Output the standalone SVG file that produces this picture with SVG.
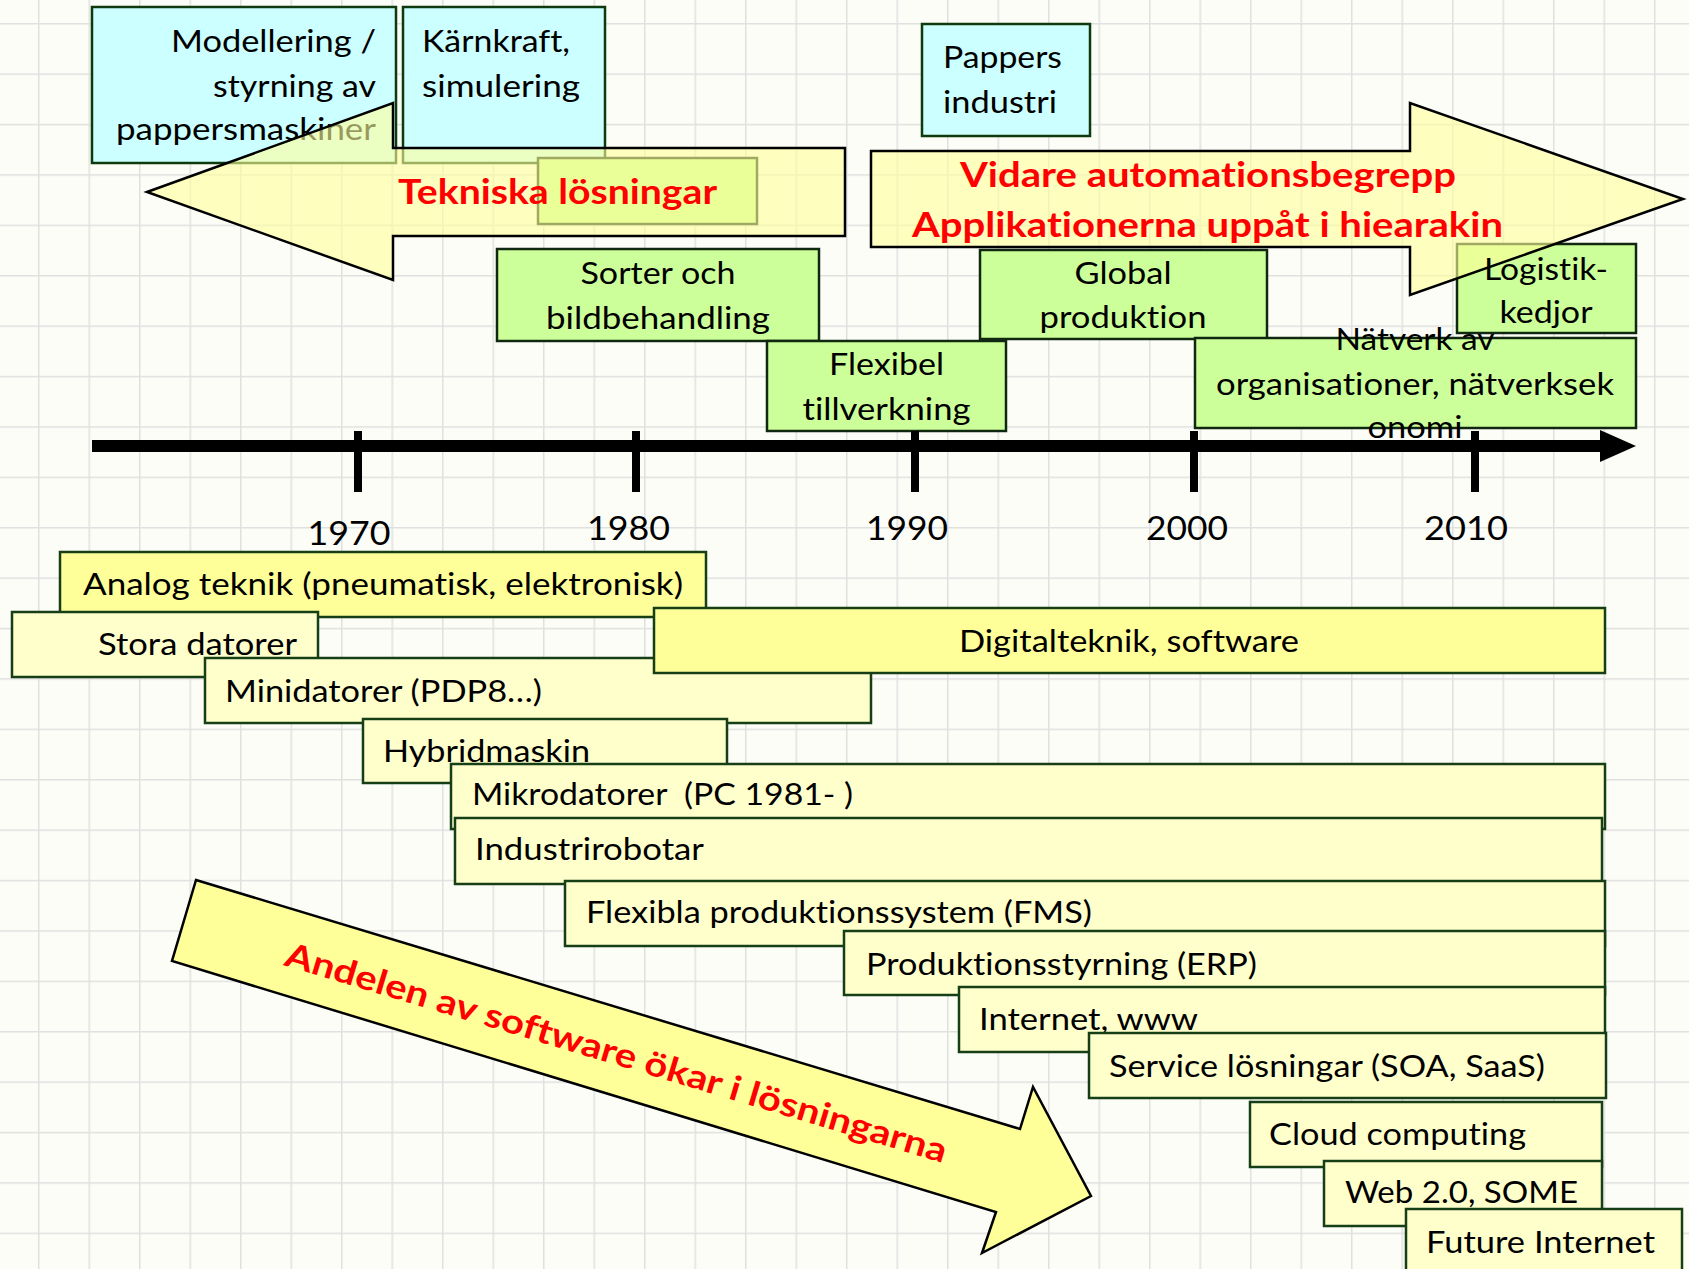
<svg xmlns="http://www.w3.org/2000/svg" width="1689" height="1269" viewBox="0 0 1689 1269">
  <style>
    text { font-variant-ligatures: none; }
    .t { font-family: Lato, "Liberation Sans", sans-serif; font-size: 31px; fill: #000; }
    .yr { font-family: Lato, "Liberation Sans", sans-serif; font-size: 33px; fill: #000; text-anchor: middle; }
    .red { font-family: Lato, "Liberation Sans", sans-serif; font-size: 34px; font-weight: 700; fill: #FF0000; }
    .mid { text-anchor: middle; }
    .end { text-anchor: end; }
    .cyan { fill: #CCFFFF; stroke: #0E3B0E; stroke-width: 2.5; }
    .green { fill: #CCFF99; stroke: #102810; stroke-width: 2.5; }
    .bar { fill: #FFFFCC; stroke: #163F16; stroke-width: 2.5; }
    .hi { fill: #FFFF99; }
    .arrow { fill: #FFFF99; fill-opacity: 0.6; stroke: #000; stroke-width: 2.5; stroke-linejoin: miter; }
    .solid { fill-opacity: 1; }
  </style>
  <defs>
    <pattern id="grid" patternUnits="userSpaceOnUse" x="38" y="23" width="50.5" height="50.4">
      <path d="M0.75 0 V50.4 M0 0.75 H50.5" stroke="#e0e0e0" stroke-width="1.5" fill="none"/>
    </pattern>
  </defs>

  <!-- graph paper background -->
  <rect width="1689" height="1269" fill="#FCFDF7"/>
  <rect width="1689" height="1269" fill="url(#grid)"/>

  <!-- application areas, top row -->
  <g id="modellering">
    <rect class="cyan" x="92" y="7" width="304" height="156"/>
    <text class="t end" x="376" y="52" textLength="205" lengthAdjust="spacingAndGlyphs">Modellering /</text>
    <text class="t end" x="376" y="97" textLength="163" lengthAdjust="spacingAndGlyphs">styrning av</text>
    <text class="t end" x="376" y="140" textLength="260" lengthAdjust="spacingAndGlyphs">pappersmaskiner</text>
  </g>
  <g id="karnkraft">
    <rect class="cyan" x="403" y="7" width="202" height="156"/>
    <text class="t" x="422" y="52" textLength="148" lengthAdjust="spacingAndGlyphs">Kärnkraft,</text>
    <text class="t" x="422" y="97" textLength="158" lengthAdjust="spacingAndGlyphs">simulering</text>
  </g>
  <g id="hidden-box">
    <rect class="green" x="538" y="158" width="219" height="66"/>
  </g>
  <g id="logistik">
    <rect class="green" x="1457" y="244" width="179" height="89"/>
  </g>

  <!-- broad arrows -->
  <g id="arrow-tekniska">
    <polygon class="arrow" points="147,192 393,103 393,148 845,148 845,236 393,236 393,280"/>
    <text class="red" x="398" y="204" textLength="319" lengthAdjust="spacingAndGlyphs">Tekniska lösningar</text>
  </g>
  <g id="arrow-vidare">
    <polygon class="arrow" points="871,151 1410,151 1410,103 1683,199 1410,295 1410,247 871,247"/>
  </g>

  <g id="logistik-text">
    <text class="t mid" x="1546" y="280" textLength="124" lengthAdjust="spacingAndGlyphs">Logistik-</text>
    <text class="t mid" x="1546" y="323" textLength="93" lengthAdjust="spacingAndGlyphs">kedjor</text>
  </g>
  <g id="vidare-text">
    <text class="red" x="960" y="187" textLength="496" lengthAdjust="spacingAndGlyphs">Vidare automationsbegrepp</text>
    <text class="red" x="912" y="237" textLength="591" lengthAdjust="spacingAndGlyphs">Applikationerna uppåt i hiearakin</text>
  </g>

  <g id="pappers">
    <rect class="cyan" x="922" y="24" width="168" height="112"/>
    <text class="t" x="943" y="68" textLength="119" lengthAdjust="spacingAndGlyphs">Pappers</text>
    <text class="t" x="943" y="113" textLength="114" lengthAdjust="spacingAndGlyphs">industri</text>
  </g>
  <g id="sorter">
    <rect class="green" x="497" y="249" width="322" height="92"/>
    <text class="t mid" x="658" y="284" textLength="155" lengthAdjust="spacingAndGlyphs">Sorter och</text>
    <text class="t mid" x="658" y="329" textLength="224" lengthAdjust="spacingAndGlyphs">bildbehandling</text>
  </g>
  <g id="flexibel">
    <rect class="green" x="767" y="341" width="239" height="90"/>
    <text class="t mid" x="886.5" y="375" textLength="115" lengthAdjust="spacingAndGlyphs">Flexibel</text>
    <text class="t mid" x="886.5" y="420" textLength="168" lengthAdjust="spacingAndGlyphs">tillverkning</text>
  </g>
  <g id="global">
    <rect class="green" x="980" y="250" width="287" height="89"/>
    <text class="t mid" x="1123" y="284" textLength="97" lengthAdjust="spacingAndGlyphs">Global</text>
    <text class="t mid" x="1123" y="328" textLength="167" lengthAdjust="spacingAndGlyphs">produktion</text>
  </g>
  <g id="natverk">
    <rect class="green" x="1195" y="338" width="441" height="90"/>
  </g>

  <!-- time axis -->
  <g id="axis">
    <line x1="92" y1="446" x2="1603" y2="446" stroke="#000" stroke-width="12"/>
    <polygon points="1600,430 1636,446 1600,462" fill="#000"/>
    <rect x="354" y="431" width="8" height="61" fill="#000"/>
    <rect x="632" y="431" width="8" height="61" fill="#000"/>
    <rect x="911" y="431" width="8" height="61" fill="#000"/>
    <rect x="1190" y="431" width="8" height="61" fill="#000"/>
    <rect x="1471" y="431" width="8" height="61" fill="#000"/>
    <text class="yr" x="349" y="545" textLength="83" lengthAdjust="spacingAndGlyphs">1970</text>
    <text class="yr" x="628.5" y="540" textLength="83" lengthAdjust="spacingAndGlyphs">1980</text>
    <text class="yr" x="907" y="540" textLength="82" lengthAdjust="spacingAndGlyphs">1990</text>
    <text class="yr" x="1187" y="540" textLength="82" lengthAdjust="spacingAndGlyphs">2000</text>
    <text class="yr" x="1466" y="540" textLength="84" lengthAdjust="spacingAndGlyphs">2010</text>
  </g>

  <g id="natverk-text">
    <text class="t mid" x="1415" y="350" textLength="159" lengthAdjust="spacingAndGlyphs">Nätverk av</text>
    <text class="t mid" x="1415" y="395" textLength="398" lengthAdjust="spacingAndGlyphs">organisationer, nätverksek</text>
    <text class="t mid" x="1415" y="438" textLength="95" lengthAdjust="spacingAndGlyphs">onomi</text>
  </g>

  <!-- technology bars -->
  <g id="analog">
    <rect class="bar hi" x="60" y="552" width="646" height="65"/>
    <text class="t" x="83" y="595" textLength="600" lengthAdjust="spacingAndGlyphs">Analog teknik (pneumatisk, elektronisk)</text>
  </g>
  <g id="stora">
    <rect class="bar" x="12" y="612" width="306" height="65"/>
    <text class="t" x="98" y="655" textLength="199" lengthAdjust="spacingAndGlyphs">Stora datorer</text>
  </g>
  <g id="mini">
    <rect class="bar" x="205" y="658" width="666" height="65"/>
    <text class="t" x="225" y="702" textLength="317" lengthAdjust="spacingAndGlyphs">Minidatorer (PDP8…)</text>
  </g>
  <g id="digital">
    <rect class="bar hi" x="654" y="608" width="951" height="65"/>
    <text class="t mid" x="1129" y="652" textLength="340" lengthAdjust="spacingAndGlyphs">Digitalteknik, software</text>
  </g>
  <g id="hybrid">
    <rect class="bar" x="363" y="719" width="364" height="64"/>
    <text class="t" x="383" y="762" textLength="207" lengthAdjust="spacingAndGlyphs">Hybridmaskin</text>
  </g>
  <g id="mikro">
    <rect class="bar" x="451" y="764" width="1154" height="65"/>
    <text class="t" x="472" y="805" textLength="381" lengthAdjust="spacingAndGlyphs" xml:space="preserve">Mikrodatorer  (PC 1981- )</text>
  </g>
  <g id="robotar">
    <rect class="bar" x="455" y="818" width="1147" height="66"/>
    <text class="t" x="475" y="860" textLength="229" lengthAdjust="spacingAndGlyphs">Industrirobotar</text>
  </g>
  <g id="fms">
    <rect class="bar" x="565" y="881" width="1040" height="65"/>
    <text class="t" x="586" y="923" textLength="506" lengthAdjust="spacingAndGlyphs">Flexibla produktionssystem (FMS)</text>
  </g>
  <g id="erp">
    <rect class="bar" x="844" y="931" width="761" height="64"/>
    <text class="t" x="866" y="975" textLength="391" lengthAdjust="spacingAndGlyphs">Produktionsstyrning (ERP)</text>
  </g>
  <g id="internet">
    <rect class="bar" x="959" y="987" width="646" height="65"/>
    <text class="t" x="979" y="1030" textLength="219" lengthAdjust="spacingAndGlyphs">Internet, www</text>
  </g>
  <g id="service">
    <rect class="bar" x="1089" y="1033" width="517" height="65"/>
    <text class="t" x="1109" y="1077" textLength="436" lengthAdjust="spacingAndGlyphs">Service lösningar (SOA, SaaS)</text>
  </g>
  <g id="cloud">
    <rect class="bar" x="1250" y="1102" width="352" height="65"/>
    <text class="t" x="1269" y="1145" textLength="257" lengthAdjust="spacingAndGlyphs">Cloud computing</text>
  </g>
  <g id="web">
    <rect class="bar" x="1324" y="1161" width="278" height="65"/>
    <text class="t" x="1345" y="1203" textLength="233" lengthAdjust="spacingAndGlyphs">Web 2.0, SOME</text>
  </g>
  <g id="future">
    <rect class="bar" x="1406" y="1209" width="276" height="80"/>
    <text class="t" x="1426" y="1253" textLength="229" lengthAdjust="spacingAndGlyphs">Future Internet</text>
  </g>

  <!-- diagonal arrow -->
  <g id="arrow-andelen">
    <polygon class="arrow solid" points="196,880 1020,1129 1033,1087 1091,1196 982,1253 996,1212 172,961"/>
    <text class="red mid" x="613" y="1064" font-size="32" transform="rotate(16.7 613 1064)" textLength="689" lengthAdjust="spacingAndGlyphs">Andelen av software ökar i lösningarna</text>
  </g>
</svg>
